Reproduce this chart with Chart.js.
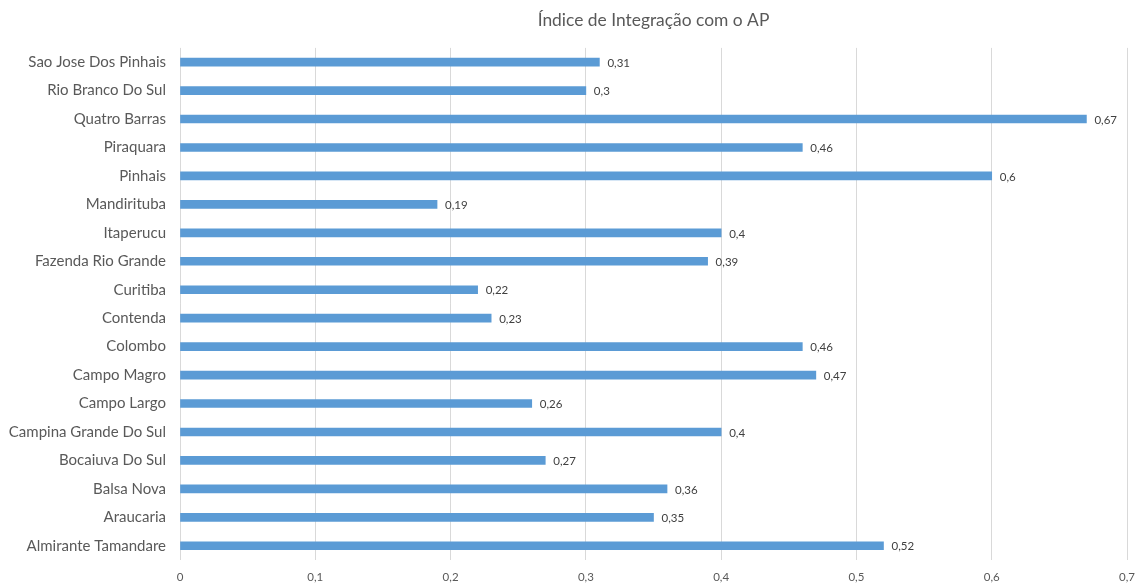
<!DOCTYPE html>
<html>
<head>
<meta charset="utf-8">
<script src="https://cdn.jsdelivr.net/npm/chart.js@4"></script>
<style>
html,body{margin:0;padding:0;background:#fff;}
#wrap{width:1138px;height:583px;}
</style>
</head>
<body>
<div id="wrap"><canvas id="c" width="1138" height="583"></canvas></div>
<script>
const categories = ["Sao Jose Dos Pinhais","Rio Branco Do Sul","Quatro Barras","Piraquara","Pinhais","Mandirituba","Itaperucu","Fazenda Rio Grande","Curitiba","Contenda","Colombo","Campo Magro","Campo Largo","Campina Grande Do Sul","Bocaiuva Do Sul","Balsa Nova","Araucaria","Almirante Tamandare"];
const values = [0.31,0.3,0.67,0.46,0.6,0.19,0.4,0.39,0.22,0.23,0.46,0.47,0.26,0.4,0.27,0.36,0.35,0.52];
const xTicks = [0,0.1,0.2,0.3,0.4,0.5,0.6,0.7];
const titleText = "Índice de Integração com o AP";

const fmt = v => { const r = Math.round(v*100)/100; return r === 0 ? "0" : String(r).replace('.', ','); };
const FONT = "Lato, 'Open Sans', sans-serif";

const labelPlugin = {
  id: 'barLabels',
  afterDatasetsDraw(chart) {
    const ctx = chart.ctx;
    const meta = chart.getDatasetMeta(0);
    ctx.save();
    ctx.font = "11.5px " + FONT;
    ctx.fillStyle = "#404040";
    ctx.textBaseline = "middle";
    ctx.textAlign = "left";
    meta.data.forEach((bar, i) => {
      ctx.fillText(fmt(values[i]), bar.x + 8, bar.y + 1);
    });
    ctx.restore();
  }
};

new Chart(document.getElementById('c'), {
  type: 'bar',
  data: {
    labels: categories,
    datasets: [{
      data: values,
      backgroundColor: '#5B9BD5',
      barThickness: 8
    }]
  },
  options: {
    indexAxis: 'y',
    responsive: false,
    animation: false,
    devicePixelRatio: 1,
    layout: { padding: { left: 0, right: 11, top: 0, bottom: 0 } },
    plugins: {
      legend: { display: false },
      tooltip: { enabled: false },
      title: {
        display: true,
        fullSize: false,
        text: titleText,
        color: '#595959',
        font: { family: FONT, size: 17.4, weight: 'normal' },
        padding: { top: 10, bottom: 17 }
      }
    },
    scales: {
      x: {
        min: 0, max: 0.7,
        afterBuildTicks(scale) { scale.ticks = xTicks.map(v => ({ value: v })); },
        afterFit(scale) { scale.height = 23; scale.paddingLeft = 0; scale.paddingRight = 0; },
        ticks: {
          callback: v => fmt(v),
          color: '#595959',
          font: { family: FONT, size: 11.5 },
          padding: 10,
          maxRotation: 0
        },
        grid: { color: '#d9d9d9', drawTicks: false, lineWidth: 1 },
        border: { display: false }
      },
      y: {
        afterFit(scale) { scale.width = 180; scale.paddingTop = 0; scale.paddingBottom = 0; },
        ticks: {
          color: '#595959',
          font: { family: FONT, size: 15 },
          padding: 14,
          autoSkip: false
        },
        grid: { display: false, drawTicks: false },
        border: { display: false }
      }
    }
  },
  plugins: [labelPlugin]
});
</script>
</body>
</html>
